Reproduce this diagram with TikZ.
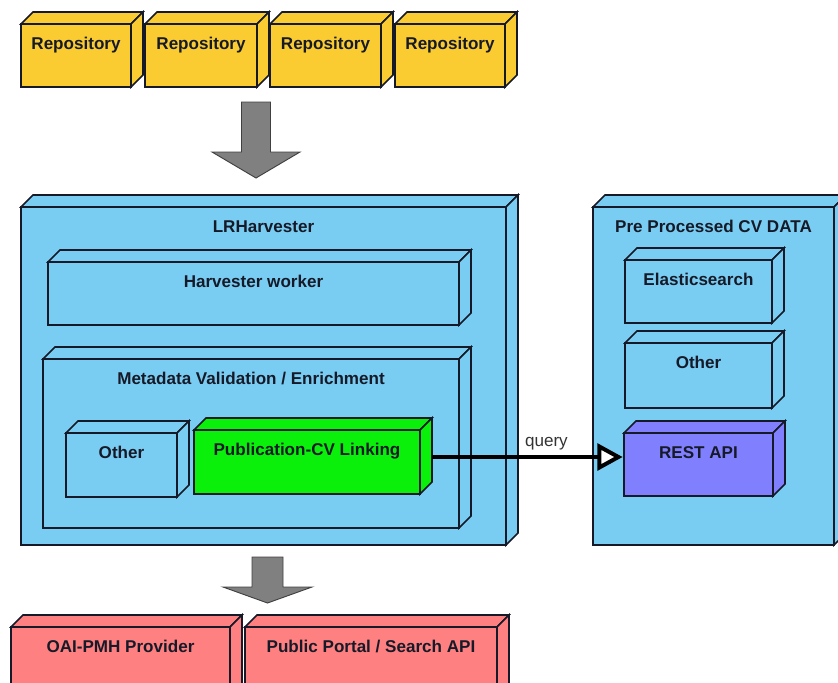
\documentclass[tikz,border=0pt]{standalone}
\usepackage{fontspec}
\setmainfont{Liberation Sans}
\usetikzlibrary{fit,arrows.meta}

\definecolor{repoyellow}{RGB}{250,204,50}
\definecolor{nodeblue}{RGB}{122,205,242}
\definecolor{linkgreen}{RGB}{10,240,10}
\definecolor{apiviolet}{RGB}{128,128,255}
\definecolor{outred}{RGB}{255,128,128}
\definecolor{edgeline}{RGB}{22,26,40}

% offset of the top and side faces
\def\nodeoff{12}

\tikzset{
    facebox/.style={draw=edgeline, line width=1.2pt, inner sep=0pt, outer sep=0pt},
    boxlabel/.style={anchor=base, text=edgeline, font=\fontsize{12.8}{15}\selectfont\bfseries},
    bigarrow/.style={draw=black!75, fill=black!50, line width=0.7pt},
    queryline/.style={line width=3pt, -{Triangle[length=19pt 0 0, width=20pt 0 0, fill=white]}}
}

% 3d node: name, x1, y1, x2, y2, colour, text
\newcommand{\umlnode}[7]{%
    \node[facebox, fill=#6, fit={(#2,#3) (#4,#5)}] (#1) {};
    \draw[facebox, fill=#6] (#1.north west) -- ++(\nodeoff,-\nodeoff) -- ([shift={(\nodeoff,-\nodeoff)}]#1.north east) -- (#1.north east) -- cycle;
    \draw[facebox, fill=#6] (#1.north east) -- ([shift={(\nodeoff,-\nodeoff)}]#1.north east) -- ([shift={(\nodeoff,-\nodeoff)}]#1.south east) -- (#1.south east) -- cycle;
    \node[boxlabel] at ([shift={(0,25)}]#1.north) {#7};
}

\begin{document}
\begin{tikzpicture}[x=0.75pt, y=-0.75pt]
    \useasboundingbox (0,0) rectangle (838,682);

    % sources
    \umlnode{repoA}{21}{24}{131}{87}{repoyellow}{Repository}
    \umlnode{repoB}{145}{24}{257}{87}{repoyellow}{Repository}
    \umlnode{repoC}{270}{24}{381}{87}{repoyellow}{Repository}
    \umlnode{repoD}{395}{24}{505}{87}{repoyellow}{Repository}

    \draw [bigarrow] (241.5,102) -- (270.5,102) -- (270.5,152) -- (300,152) -- (256,178) -- (212,152) -- (241.5,152) -- cycle;

    % harvester
    \umlnode{harvester}{21}{207}{506}{545}{nodeblue}{LRHarvester}
    \umlnode{worker}{48}{262}{459}{325}{nodeblue}{Harvester worker}
    \umlnode{enrich}{43}{359}{459}{528}{nodeblue}{Metadata Validation / Enrichment}
    \umlnode{otherL}{66}{433}{177}{497}{nodeblue}{Other}
    \umlnode{pub}{194}{430}{420}{494}{linkgreen}{Publication-CV Linking}

    % cv data
    \umlnode{cvdata}{593}{207}{834}{545}{nodeblue}{Pre Processed CV DATA}
    \umlnode{elastic}{625}{260}{772}{323}{nodeblue}{Elasticsearch}
    \umlnode{otherR}{625}{343}{772}{408}{nodeblue}{Other}
    \umlnode{rest}{624}{433}{773}{496}{apiviolet}{REST API}

    \coordinate (qstart) at ([shift={(\nodeoff,-5)}]pub.east);
    \draw [queryline] (qstart) -- ([xshift=-1pt]qstart -| rest.west) node [pos=0.6, above=0.5pt, font=\fontsize{12.8}{15}\selectfont, text=black!80] {query};

    \draw [bigarrow] (252,557) -- (283,557) -- (283,587) -- (312,587) -- (267.5,603) -- (223,587) -- (252,587) -- cycle;

    % outputs
    \umlnode{oai}{11}{627}{230}{700}{outred}{OAI-PMH Provider}
    \umlnode{portal}{245}{627}{497}{700}{outred}{Public Portal / Search API}
\end{tikzpicture}
\end{document}
